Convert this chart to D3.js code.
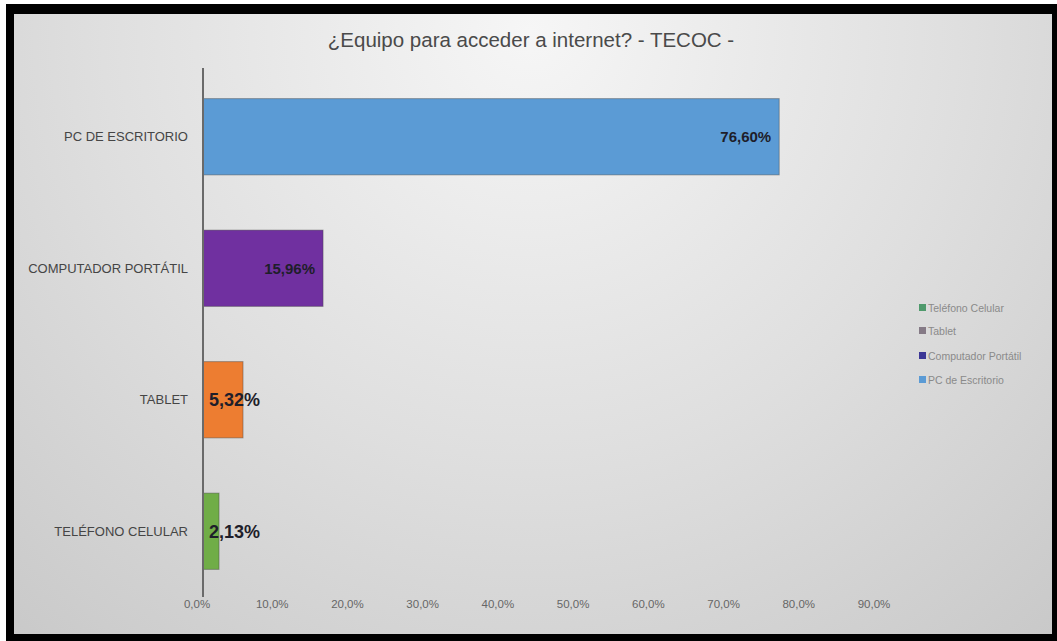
<!DOCTYPE html>
<html lang="es">
<head>
<meta charset="utf-8">
<title>¿Equipo para acceder a internet? - TECOC -</title>
<script src="https://cdn.jsdelivr.net/npm/d3@7"></script>
<style>
  html, body { margin: 0; padding: 0; background: #ffffff; }
  svg { display: block; }
</style>
</head>
<body>
<svg id="chart" width="1057" height="641"></svg>
<script>
// Survey answers: device used to access the internet
const categories = ["PC DE ESCRITORIO", "COMPUTADOR PORTÁTIL", "TABLET", "TELÉFONO CELULAR"];
const values = [76.60, 15.96, 5.32, 2.13];
const barColors = ["#5b9bd5", "#7030a0", "#ed7d31", "#70ad47"];
const valueLabels = ["76,60%", "15,96%", "5,32%", "2,13%"];
const tickValues = [0, 10, 20, 30, 40, 50, 60, 70, 80, 90];
const tickLabels = ["0,0%", "10,0%", "20,0%", "30,0%", "40,0%", "50,0%", "60,0%", "70,0%", "80,0%", "90,0%"];
const legendNames = ["Teléfono Celular", "Tablet", "Computador Portátil", "PC de Escritorio"];
const legendColors = ["#4f9a6c", "#857a86", "#3c3796", "#5b9bd5"];
const title = "¿Equipo para acceder a internet? - TECOC -";

const svg = d3.select("#chart");
const W = 1057, H = 641;
const font = "'Liberation Sans', Arial, sans-serif";

// Page frame: black border around a gray gradient card
svg.append("rect").attr("x", 6).attr("y", 4).attr("width", W - 6).attr("height", H - 4).attr("fill", "#000");

const defs = svg.append("defs");
const bg = defs.append("radialGradient").attr("id", "bg")
  .attr("gradientUnits", "userSpaceOnUse")
  .attr("cx", 530).attr("cy", 30).attr("r", 950);
bg.append("stop").attr("offset", "0").attr("stop-color", "#f6f6f6");
bg.append("stop").attr("offset", "0.45").attr("stop-color", "#dfdfdf");
bg.append("stop").attr("offset", "1").attr("stop-color", "#c0c0c0");

svg.append("rect").attr("x", 14).attr("y", 14).attr("width", 1038).attr("height", 620).attr("fill", "url(#bg)");

// Title
svg.append("text")
  .attr("x", 531).attr("y", 47)
  .attr("text-anchor", "middle")
  .attr("font-family", font).attr("font-size", 20.5)
  .attr("fill", "#4a4a4a")
  .text(title);

// Scales
const x = d3.scaleLinear().domain([0, 90]).range([203, 880]);
const y = d3.scaleBand().domain(categories).range([71, 597]).paddingInner(0.42).paddingOuter(0.21);

// Bars
svg.append("g").selectAll("rect")
  .data(categories)
  .join("rect")
  .attr("x", x(0))
  .attr("y", d => y(d))
  .attr("width", (d, i) => x(values[i]) - x(0))
  .attr("height", y.bandwidth())
  .attr("fill", (d, i) => barColors[i])
  .attr("stroke", "rgba(70,70,70,0.45)")
  .attr("stroke-width", 1);

// Category axis line
svg.append("line")
  .attr("x1", x(0)).attr("x2", x(0))
  .attr("y1", 68).attr("y2", 597)
  .attr("stroke", "#6a6a6a").attr("stroke-width", 2);

// Category labels
svg.append("g").selectAll("text")
  .data(categories)
  .join("text")
  .attr("x", 188)
  .attr("y", d => y(d) + y.bandwidth() / 2)
  .attr("dy", "0.35em")
  .attr("text-anchor", "end")
  .attr("font-family", font).attr("font-size", 13)
  .attr("fill", "#454545")
  .text(d => d);

// Value axis tick labels
svg.append("g").selectAll("text")
  .data(tickValues)
  .join("text")
  .attr("x", d => x(d) - 6)
  .attr("y", 608)
  .attr("text-anchor", "middle")
  .attr("font-family", font).attr("font-size", 11.5)
  .attr("fill", "#666666")
  .text((d, i) => tickLabels[i]);

// Data labels: inside the bar end when they fit, otherwise larger and from the base
const labels = svg.append("g").selectAll("text")
  .data(categories)
  .join("text")
  .attr("y", d => y(d) + y.bandwidth() / 2)
  .attr("dy", "0.35em")
  .attr("font-family", font).attr("font-size", 15).attr("font-weight", "bold")
  .attr("fill", "#1e1e2a")
  .text((d, i) => valueLabels[i]);

labels.each(function (d, i) {
  const t = d3.select(this);
  const w = this.getComputedTextLength();
  const barW = x(values[i]) - x(0);
  if (barW > w + 14) {
    t.attr("x", x(values[i]) - 8).attr("text-anchor", "end");
  } else {
    t.attr("x", x(0) + 6).attr("text-anchor", "start").attr("font-size", 18);
  }
});

// Legend
const legend = svg.append("g").attr("transform", "translate(919,0)");
const legendY = [308, 331, 356, 380];
legend.selectAll("rect")
  .data(legendNames)
  .join("rect")
  .attr("x", 0)
  .attr("y", (d, i) => legendY[i] - 4)
  .attr("width", 7).attr("height", 7)
  .attr("fill", (d, i) => legendColors[i]);
legend.selectAll("text")
  .data(legendNames)
  .join("text")
  .attr("x", 9)
  .attr("y", (d, i) => legendY[i])
  .attr("dy", "0.35em")
  .attr("font-family", font).attr("font-size", 10.5)
  .attr("fill", "#8a8a8a")
  .text(d => d);
</script>
</body>
</html>
